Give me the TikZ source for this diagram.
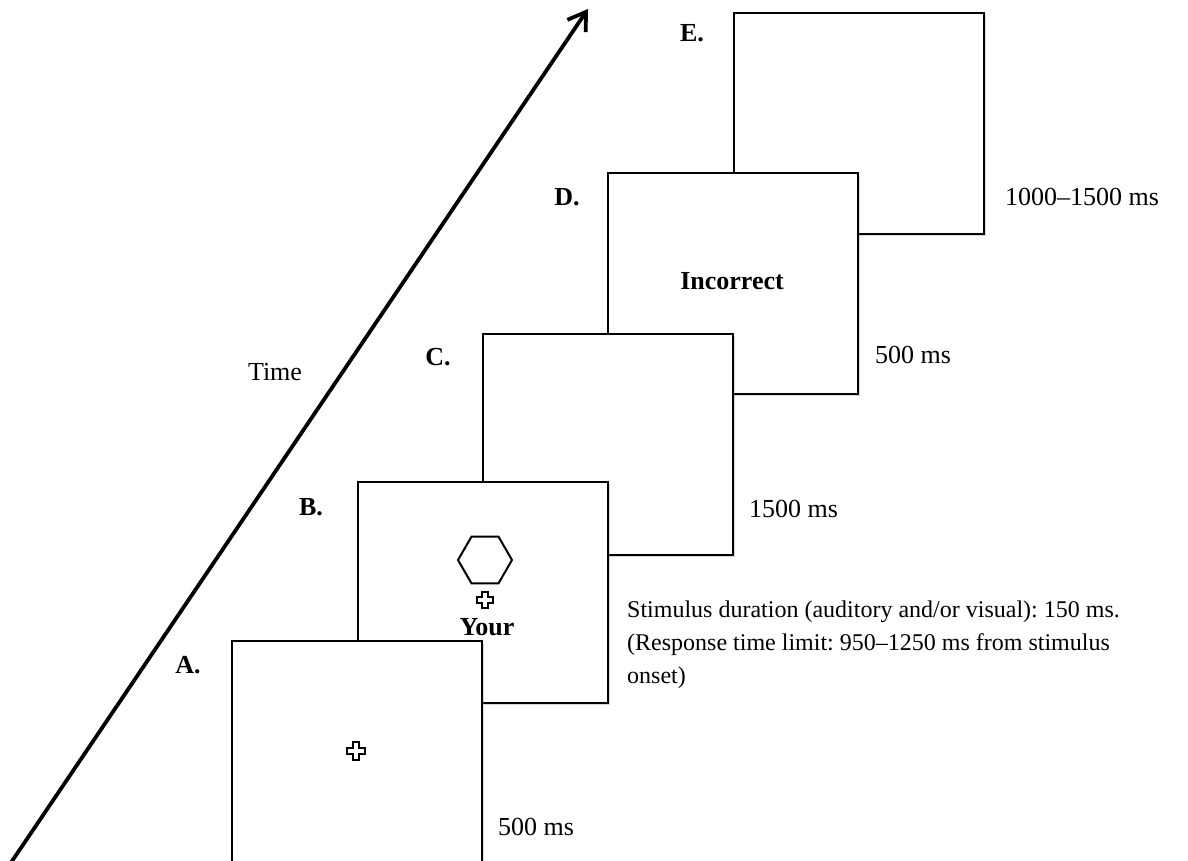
\documentclass[tikz,border=0pt]{standalone}
\usepackage{fontspec}
\setmainfont{Liberation Serif}
\frenchspacing
\usetikzlibrary{arrows.meta,shadows,shapes.geometric}
\tikzset{
  screen/.style={draw, line width=2.2pt, fill=white, rectangle, minimum width=250pt,
    minimum height=221pt, anchor=north west, inner sep=0pt,
    drop shadow={shadow xshift=1.5pt, shadow yshift=-1.5pt, opacity=0.3}},
  panellabel/.style={font=\fontsize{26}{30}\selectfont\bfseries, inner sep=0pt},
  durlabel/.style={font=\fontsize{26}{30}\selectfont, inner sep=0pt, anchor=west},
  stimtext/.style={font=\fontsize{24}{33}\selectfont, inner sep=0pt, anchor=base west},
  boldtext/.style={font=\fontsize{26}{30}\selectfont\bfseries, inner sep=0pt},
  timearrow/.style={line width=3.8pt, -{Straight Barb[length=17pt, width=22pt, line width=3.8pt]}},
  hexshape/.style={draw, line width=2pt, regular polygon, regular polygon sides=6,
    minimum size=54pt, inner sep=0pt},
  pics/fixcross/.style={code={
    \draw[line width=1.8pt] (-3,-9) -- (3,-9) -- (3,-3) -- (9,-3) -- (9,3) -- (3,3)
      -- (3,9) -- (-3,9) -- (-3,3) -- (-9,3) -- (-9,-3) -- (-3,-3) -- cycle;}}
}
\begin{document}
\begin{tikzpicture}[x=1pt, y=-1pt]
\useasboundingbox (0,0) rectangle (1188,861);
\fill[white] (0,0) rectangle (1188,861);

% time arrow
\coordinate (tstart) at (6,870);
\coordinate (tend) at (588,9);
\draw[timearrow] (tstart) -- (tend);
\node[durlabel, anchor=center] (time) at (275,372) {Time};

% screens, back to front
\node[screen] (E) at (733,12) {};
\node[panellabel] (Elab) at (692,33) {E.};
\node[durlabel] (Edur) at (1005,197) {1000–1500 ms};

\node[screen] (D) at (607,172) {};
\node[boldtext] (incorrect) at (732,281) {Incorrect};
\node[panellabel] (Dlab) at (567,197) {D.};
\node[durlabel] (Ddur) at (875,355) {500 ms};

\node[screen] (C) at (482,333) {};
\node[panellabel] (Clab) at (438,357) {C.};
\node[durlabel] (Cdur) at (749,509) {1500 ms};

\node[screen] (B) at (357,481) {};
\node[panellabel] (Blab) at (311,507) {B.};
\node[hexshape] (hex) at (485,560) {};
\pic[scale=0.9] (crossB) at (485,600) {fixcross};
\node[boldtext] (your) at (487,627) {Your};
\node[stimtext] (stim1) at (627,617) {Stimulus duration (auditory and/or visual): 150 ms.};
\node[stimtext] (stim2) at (627,650) {(Response time limit: 950–1250 ms from stimulus};
\node[stimtext] (stim3) at (627,683) {onset)};

\node[screen, minimum height=240pt] (A) at (231,640) {};
\node[panellabel] (Alab) at (188,665) {A.};
\pic (crossA) at (356,751) {fixcross};
\node[durlabel] (Adur) at (498,827) {500 ms};
\end{tikzpicture}
\end{document}
